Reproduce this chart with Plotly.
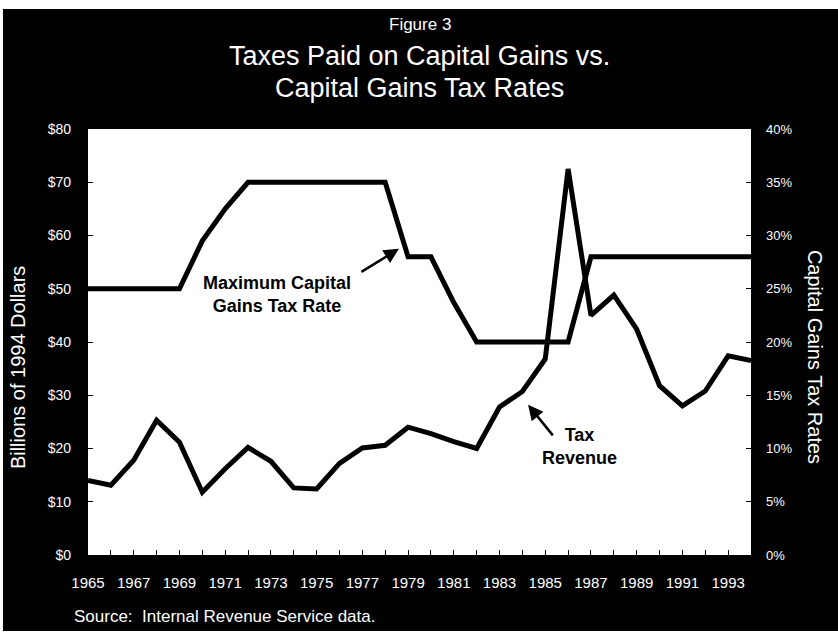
import plotly.graph_objects as go

# Capital gains taxes paid (billions of 1994 dollars) and top capital gains rate
years = list(range(1965, 1995))
tax_revenue = [14.0, 13.1, 17.8, 25.3, 21.2, 11.8, 16.2, 20.2, 17.6, 12.6,
               12.4, 17.2, 20.1, 20.6, 24.0, 22.8, 21.3, 20.0, 27.8, 30.7,
               36.8, 72.5, 45.0, 48.8, 42.4, 31.8, 28.0, 30.8, 37.4, 36.5]
max_rate = [25, 25, 25, 25, 25, 29.5, 32.5, 35, 35, 35,
            35, 35, 35, 35, 28, 28, 23.7, 20, 20, 20,
            20, 20, 28, 28, 28, 28, 28, 28, 28, 28]
year_ticks = list(range(1965, 1995, 2))
dollar_ticks = list(range(0, 81, 10))
rate_ticks = list(range(0, 41, 5))

FONT = "Liberation Sans, Arial, sans-serif"


def label(text, x, y, size, **kw):
    """Centered white text placed in paper coordinates."""
    d = dict(text=text, x=x, y=y, xref="paper", yref="paper",
             xanchor="center", yanchor="middle", showarrow=False,
             font=dict(size=size, color="white", family=FONT))
    d.update(kw)
    return d


fig = go.Figure()
fig.add_trace(go.Scatter(x=years, y=tax_revenue, mode="lines",
                         line=dict(color="black", width=5),
                         name="Tax Revenue", yaxis="y"))
fig.add_trace(go.Scatter(x=years, y=max_rate, mode="lines",
                         line=dict(color="black", width=5),
                         name="Maximum Capital Gains Tax Rate", yaxis="y2"))

annotations = [
    label("Figure 3", 0.5, 1.246, 17),
    label("Taxes Paid on Capital Gains vs.", 0.5, 1.171, 27),
    label("Capital Gains Tax Rates", 0.5, 1.096, 27),
    label("Billions of 1994 Dollars", -0.1056, 0.441, 20, textangle=-90),
    label("Capital Gains Tax Rates", 1.0965, 0.465, 20, textangle=90),
    label("Source:  Internal Revenue Service data.", -0.024, -0.1455, 17,
          xanchor="left"),
    # series labels with pointer arrows
    dict(text="<b>Maximum Capital<br>Gains Tax Rate</b>", x=1973.27, y=48.9,
         xref="x", yref="y", xanchor="center", yanchor="middle",
         showarrow=False, font=dict(size=18, color="black", family=FONT)),
    dict(text="", x=1978.6, y=57.5, xref="x", yref="y", showarrow=True,
         ax=-39, ay=24, arrowhead=2, arrowsize=1.2, arrowwidth=2.5,
         arrowcolor="black", standoff=0),
    dict(text="<b>Tax<br>Revenue</b>", x=1986.52, y=20.4,
         xref="x", yref="y", xanchor="center", yanchor="middle",
         showarrow=False, font=dict(size=18, color="black", family=FONT)),
    dict(text="", x=1984.25, y=28.2, xref="x", yref="y", showarrow=True,
         ax=26, ay=32, arrowhead=2, arrowsize=1.2, arrowwidth=2.5,
         arrowcolor="black", standoff=0),
]

# thin light paper edges around the black panel
shapes = [
    dict(type="rect", xref="paper", yref="paper", x0=-0.2, x1=1.2,
         y0=1.2817, y1=1.35, fillcolor="white", line=dict(width=0)),
    dict(type="rect", xref="paper", yref="paper", x0=-0.2, x1=-0.1282,
         y0=-0.3, y1=1.35, fillcolor="white", line=dict(width=0)),
    dict(type="rect", xref="paper", yref="paper", x0=-0.2, x1=1.2,
         y0=-0.3, y1=-0.1784, fillcolor="white", line=dict(width=0)),
]

fig.update_layout(
    width=838, height=634,
    margin=dict(l=88, r=87, t=129, b=79),
    paper_bgcolor="black", plot_bgcolor="white",
    showlegend=False,
    annotations=annotations, shapes=shapes,
    xaxis=dict(range=[1965, 1994], tickmode="array", tickvals=year_ticks,
               ticktext=[str(y) for y in year_ticks],
               ticks="inside", ticklen=5, tickcolor="black", tickwidth=1,
               minor=dict(dtick=1, tick0=1965, ticks="inside", ticklen=5,
                          tickcolor="black"),
               showgrid=False, zeroline=False, showline=False,
               ticklabelstandoff=17,
               tickfont=dict(size=15, color="white", family=FONT)),
    yaxis=dict(range=[0, 80], tickmode="array", tickvals=dollar_ticks,
               ticktext=[f"${v}" for v in dollar_ticks],
               ticks="inside", ticklen=5, tickcolor="black",
               showgrid=False, zeroline=False, showline=False,
               ticklabelstandoff=16,
               tickfont=dict(size=14, color="white", family=FONT)),
    yaxis2=dict(range=[0, 40], overlaying="y", side="right",
                tickmode="array", tickvals=rate_ticks,
                ticktext=[f"{v}%" for v in rate_ticks],
                ticks="inside", ticklen=5, tickcolor="black",
                showgrid=False, zeroline=False, showline=False,
                ticklabelstandoff=14,
                tickfont=dict(size=13, color="white", family=FONT)),
)

fig.write_html("out.html")
